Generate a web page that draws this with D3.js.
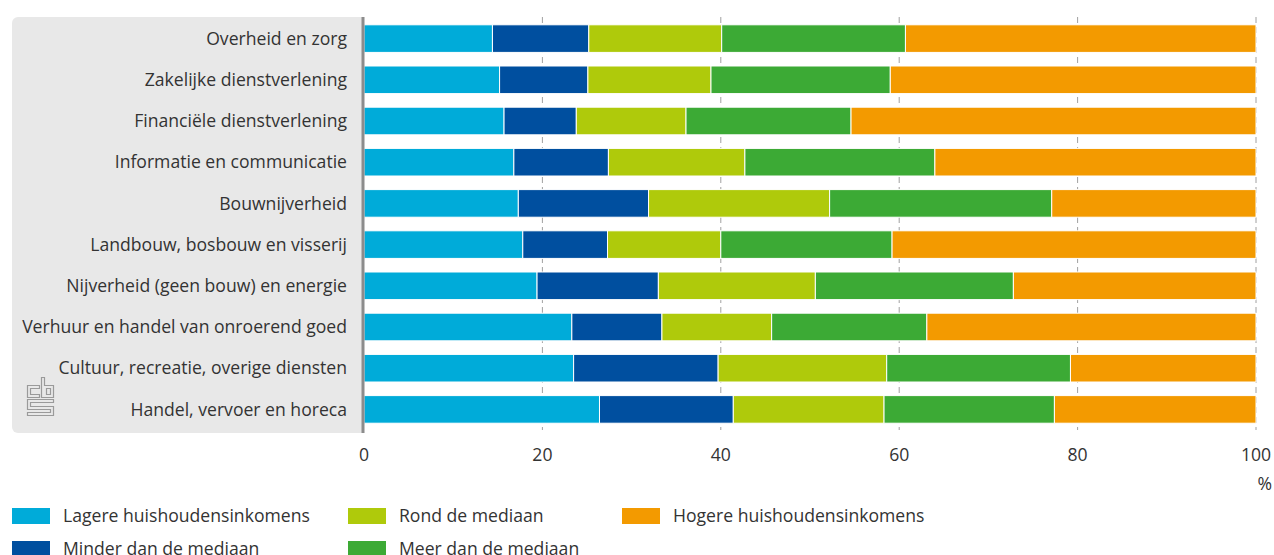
<!DOCTYPE html>
<html>
<head>
<meta charset="utf-8">
<script src="https://cdn.jsdelivr.net/npm/d3@7"></script>
<style>
  body { margin: 0; background: #fff; }
  text { font-family: "Open Sans", Lato, sans-serif; fill: #333; }
</style>
</head>
<body>
<div id="chart-container"></div>
<script>
// Categories, top to bottom
const sectors = [
  "Overheid en zorg",
  "Zakelijke dienstverlening",
  "Financiële dienstverlening",
  "Informatie en communicatie",
  "Bouwnijverheid",
  "Landbouw, bosbouw en visserij",
  "Nijverheid (geen bouw) en energie",
  "Verhuur en handel van onroerend goed",
  "Cultuur, recreatie, overige diensten",
  "Handel, vervoer en horeca"
];

// Series names (legend order)
const seriesNames = [
  "Lagere huishoudensinkomens",
  "Minder dan de mediaan",
  "Rond de mediaan",
  "Meer dan de mediaan",
  "Hogere huishoudensinkomens"
];

// Share per sector (%)
const lager  = [14.4, 15.2, 15.7, 16.8, 17.3, 17.8, 19.4, 23.3, 23.5, 26.4];
const minder = [10.8,  9.9,  8.1, 10.6, 14.6,  9.5, 13.6, 10.1, 16.2, 15.0];
const rond   = [14.9, 13.8, 12.3, 15.3, 20.3, 12.7, 17.6, 12.3, 18.9, 16.9];
const meer   = [20.6, 20.1, 18.5, 21.3, 24.9, 19.2, 22.2, 17.4, 20.6, 19.1];
const hoger  = [39.3, 41.0, 45.4, 36.0, 22.9, 40.8, 27.2, 36.9, 20.8, 22.6];

const xTicks = [0, 20, 40, 60, 80, 100];

const colors = ["#00abd9", "#004f9f", "#afca0b", "#3caa35", "#f39a00"];

const W = 1274, H = 555;
const margin = { top: 18, right: 18, bottom: 125, left: 364 };
const width = W - margin.left - margin.right;   // 0..100
const height = 430 - margin.top;
const fontSize = "17.6px";

const seriesData = [lager, minder, rond, meer, hoger];
const rows = sectors.map((s, i) => {
  const r = { sector: s };
  seriesNames.forEach((n, k) => r[n] = seriesData[k][i]);
  return r;
});
const stacked = d3.stack().keys(seriesNames)(rows);

const svg = d3.select("#chart-container")
  .append("svg")
  .attr("width", W)
  .attr("height", H);

// grey label panel
svg.append("rect")
  .attr("x", 12)
  .attr("y", 17)
  .attr("width", 360)
  .attr("height", 416)
  .attr("rx", 6)
  .attr("fill", "#e8e8e8");

const g = svg.append("g")
  .attr("transform", `translate(${margin.left},${margin.top})`);

// white out the part of the panel right of the axis
g.append("rect")
  .attr("x", 0).attr("y", -2)
  .attr("width", 12).attr("height", height + 6)
  .attr("fill", "#fff");

const x = d3.scaleLinear().domain([0, 100]).range([0, width]);
const y = d3.scaleBand().domain(sectors).range([0, height]).paddingInner(0.33).paddingOuter(0.165);

// dashed gridlines
g.selectAll(".grid")
  .data(xTicks.slice(1))
  .join("line")
  .attr("x1", d => x(d))
  .attr("x2", d => x(d))
  .attr("y1", -1)
  .attr("y2", height)
  .attr("stroke", "#a0a0a0")
  .attr("stroke-width", 1)
  .attr("stroke-dasharray", "6,4");

// bars
g.selectAll(".series")
  .data(stacked)
  .join("g")
  .attr("fill", (d, i) => colors[i])
  .selectAll("rect")
  .data(d => d)
  .join("rect")
  .attr("x", d => x(d[0]))
  .attr("width", d => x(d[1]) - x(d[0]))
  .attr("y", d => y(d.data.sector))
  .attr("height", y.bandwidth())
  .attr("stroke", "#fff")
  .attr("stroke-width", 1);

// vertical axis line
g.append("line")
  .attr("x1", -1).attr("x2", -1)
  .attr("y1", -1).attr("y2", height + 3)
  .attr("stroke", "#8c8c8c")
  .attr("stroke-width", 3);

// category labels
g.selectAll(".cat")
  .data(sectors)
  .join("text")
  .attr("x", -17)
  .attr("y", d => y(d) + y.bandwidth() / 2)
  .attr("dy", "0.35em")
  .attr("text-anchor", "end")
  .style("font-size", fontSize)
  .text(d => d);

// x axis tick labels
g.selectAll(".xlab")
  .data(xTicks)
  .join("text")
  .attr("x", d => x(d))
  .attr("y", 443)
  .attr("text-anchor", "middle")
  .style("font-size", fontSize)
  .text(d => d);

g.append("text")
  .attr("x", 1272 - margin.left)
  .attr("y", 472)
  .attr("text-anchor", "end")
  .style("font-size", fontSize)
  .text("%");

// cbs logo (outlined letters)
const logo = svg.append("g")
  .attr("transform", "translate(27.5,377.5)")
  .attr("fill", "none")
  .attr("stroke", "#9a9a9a")
  .attr("stroke-width", 1.2);
logo.append("path").attr("d", "M0,8 H12 V11 H3 V17 H12 V20 H0 Z");
logo.append("path").attr("d", "M14,0 H17 V8 H26 V20 H14 Z M19,11 H23 V17 H19 Z");
logo.append("path").attr("d", "M0,22 H26 V25 H3 V29 H26 V38 H0 V35 H23 V32 H0 Z");

// legend
const legendPos = [
  { x: 12, y: 508 }, { x: 12, y: 541 },
  { x: 348, y: 508 }, { x: 348, y: 541 },
  { x: 622, y: 508 }
];
const legend = svg.selectAll(".legend")
  .data(seriesNames)
  .join("g")
  .attr("transform", (d, i) => `translate(${legendPos[i].x},${legendPos[i].y})`);
legend.append("rect")
  .attr("width", 38)
  .attr("height", 16)
  .attr("fill", (d, i) => colors[i]);
legend.append("text")
  .attr("x", 51)
  .attr("y", 8)
  .attr("dy", "0.35em")
  .style("font-size", fontSize)
  .text(d => d);
</script>
</body>
</html>
